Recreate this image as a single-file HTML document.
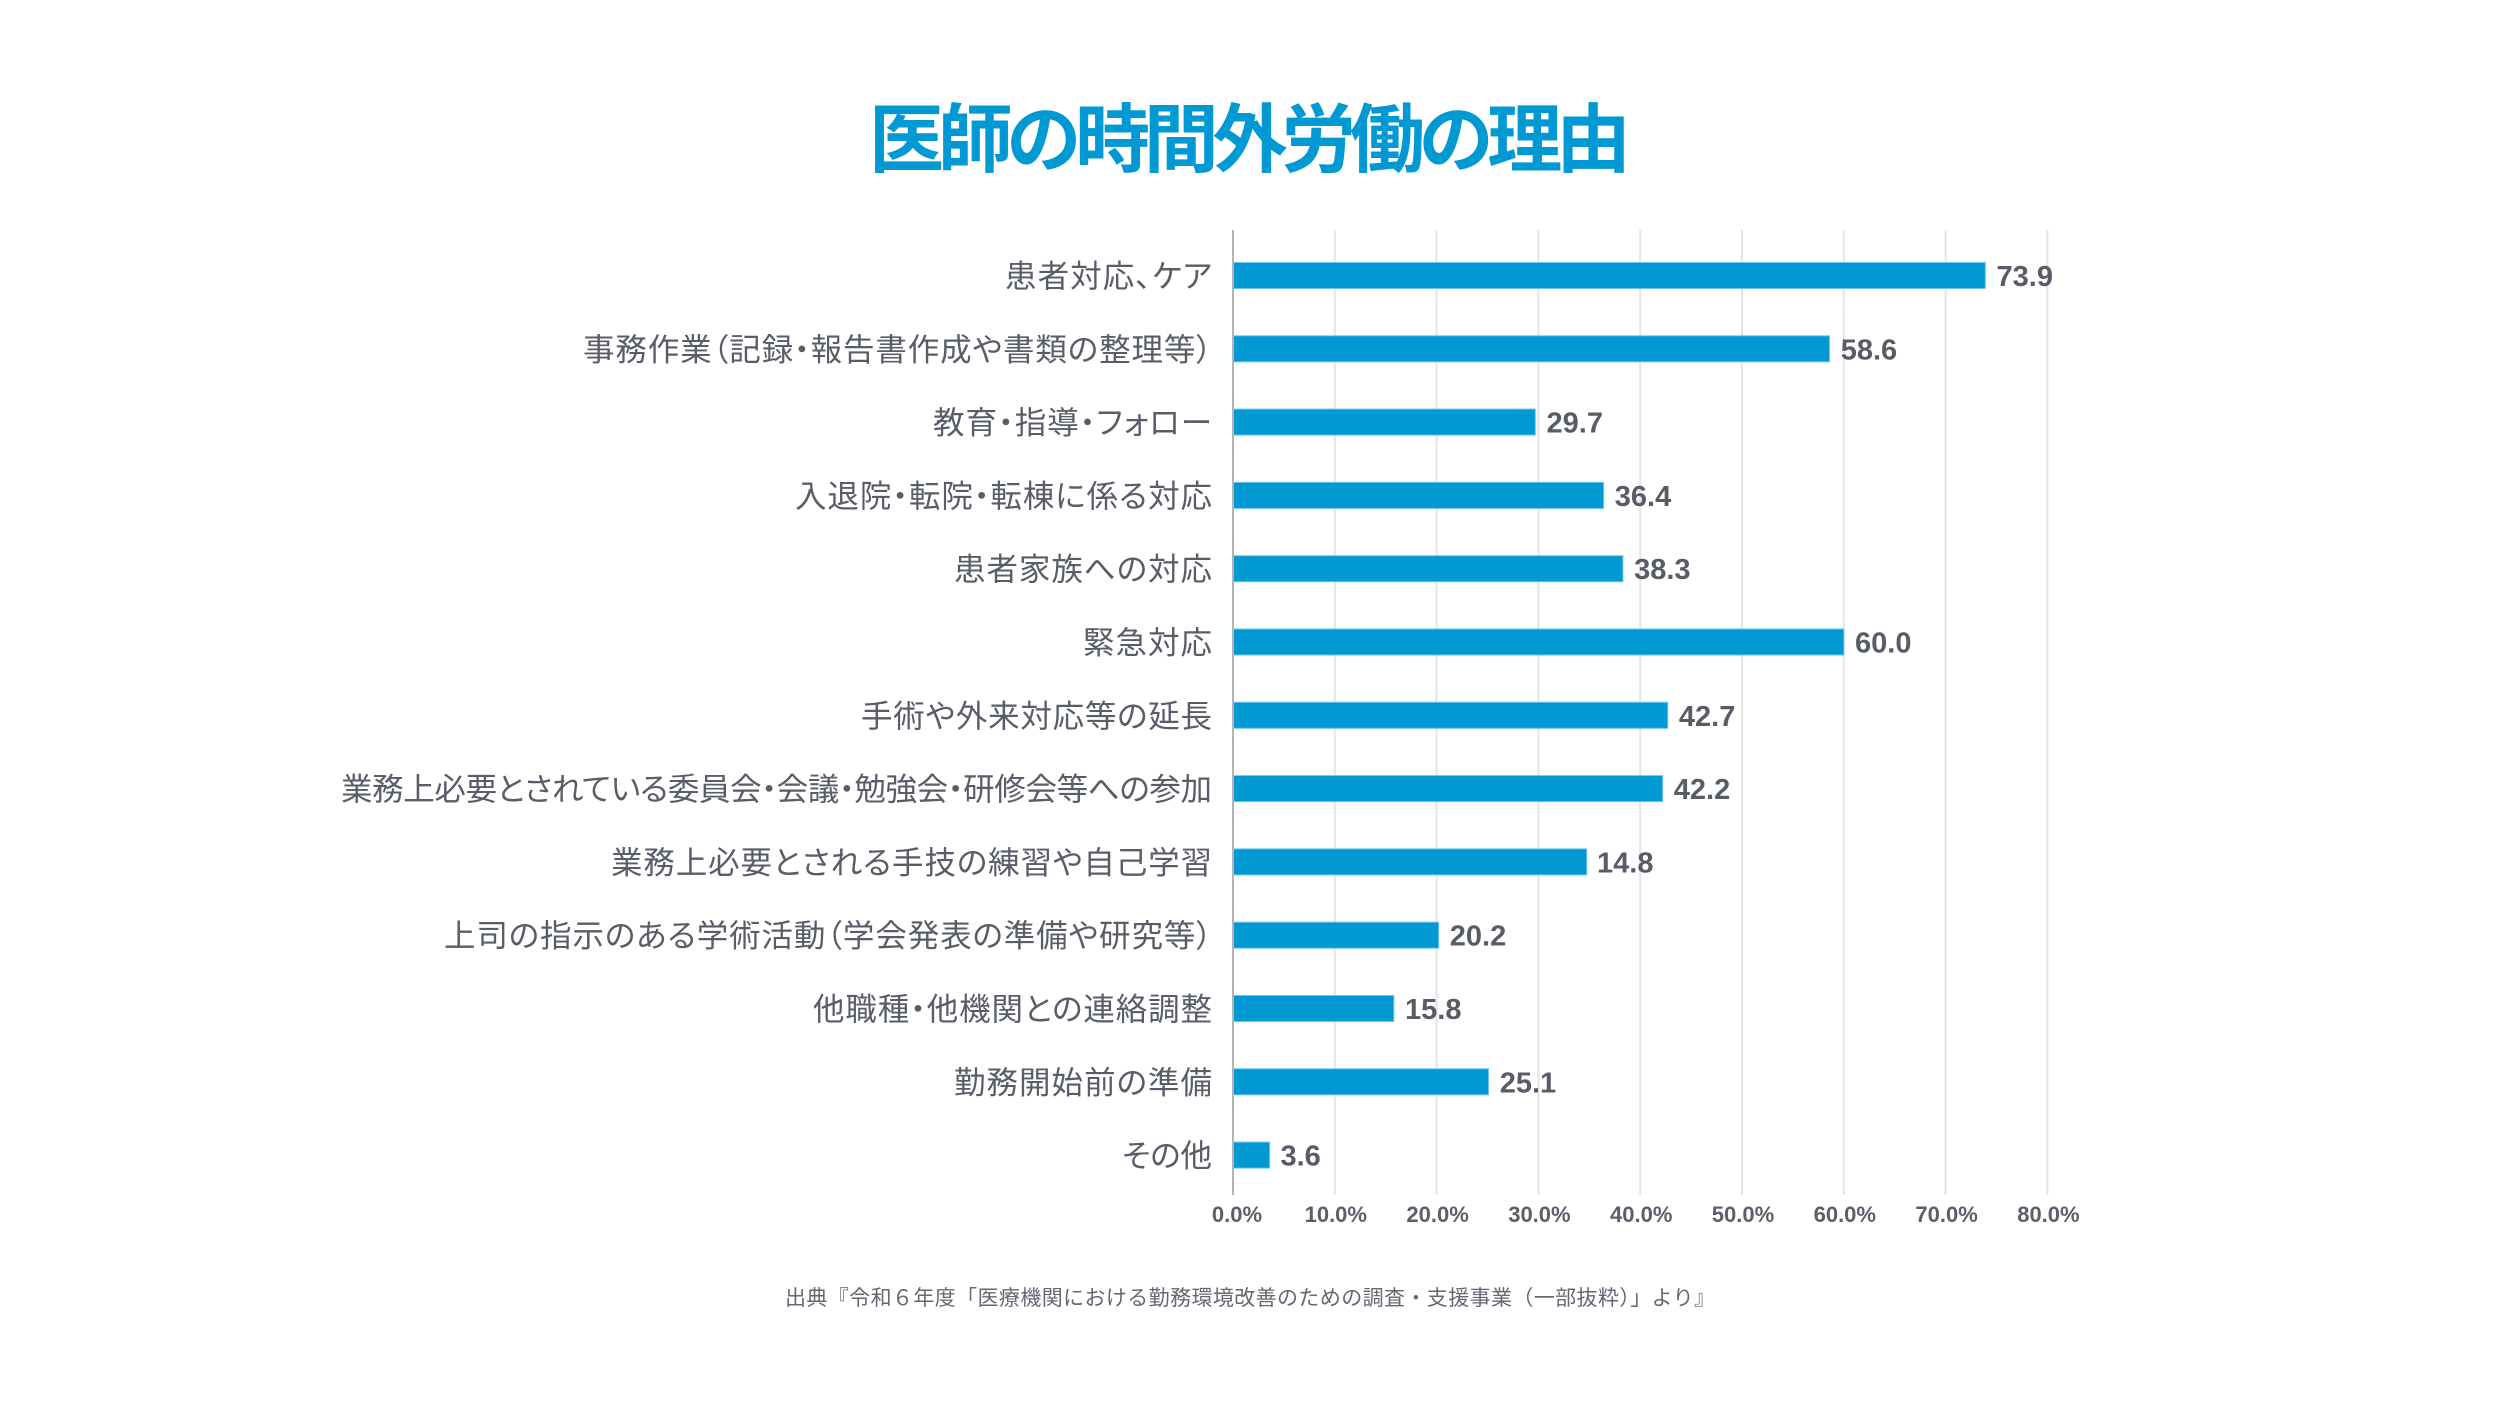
<!DOCTYPE html>
<html lang="ja">
<head>
<meta charset="utf-8">
<style>
  html, body { margin:0; padding:0; background:#ffffff; }
  body { width:2500px; height:1410px; overflow:hidden; }
  svg { display:block; }
  .title { font-family:"Liberation Sans","Noto Sans CJK JP",sans-serif; font-weight:700; font-size:75px; fill:#0099d3; }
  .cat { font-family:"Liberation Sans","Noto Sans CJK JP",sans-serif; font-size:31.5px; fill:#585d68; font-feature-settings:"palt" 1; }
  .val { font-family:"Liberation Sans",sans-serif; font-weight:700; font-size:29px; fill:#575c66; }
  .tick { font-family:"Liberation Sans",sans-serif; font-weight:700; font-size:22px; fill:#5a5f69; }
  .src { font-family:"Liberation Sans","Noto Sans CJK JP",sans-serif; font-size:21px; fill:#636873; }
</style>
</head>
<body>
<svg width="2500" height="1410" viewBox="0 0 2500 1410" xmlns="http://www.w3.org/2000/svg">
  <rect x="0" y="0" width="2500" height="1410" fill="#ffffff"/>

  <!-- Title -->
  <text class="title" x="1250" y="166" text-anchor="middle" textLength="762" lengthAdjust="spacing">医師の時間外労働の理由</text>

  <!-- Gridlines -->
  <g stroke="#e4e4e4" stroke-width="2">
    <line x1="1334.8" y1="230" x2="1334.8" y2="1195"/>
    <line x1="1436.6" y1="230" x2="1436.6" y2="1195"/>
    <line x1="1538.4" y1="230" x2="1538.4" y2="1195"/>
    <line x1="1640.2" y1="230" x2="1640.2" y2="1195"/>
    <line x1="1742.0" y1="230" x2="1742.0" y2="1195"/>
    <line x1="1843.8" y1="230" x2="1843.8" y2="1195"/>
    <line x1="1945.6" y1="230" x2="1945.6" y2="1195"/>
    <line x1="2047.4" y1="230" x2="2047.4" y2="1195"/>
  </g>

  <!-- Bars -->
  <g fill="#0099d3" stroke="#6cc4ea" stroke-width="1">
    <rect x="1233" y="262.5" width="752.3" height="26"/>
    <rect x="1233" y="335.8" width="596.5" height="26"/>
    <rect x="1233" y="409.1" width="302.3" height="26"/>
    <rect x="1233" y="482.4" width="370.6" height="26"/>
    <rect x="1233" y="555.7" width="389.9" height="26"/>
    <rect x="1233" y="629.0" width="610.8" height="26"/>
    <rect x="1233" y="702.3" width="434.7" height="26"/>
    <rect x="1233" y="775.6" width="429.6" height="26"/>
    <rect x="1233" y="848.9" width="353.7" height="26"/>
    <rect x="1233" y="922.2" width="205.6" height="26"/>
    <rect x="1233" y="995.5" width="160.8" height="26"/>
    <rect x="1233" y="1068.8" width="255.5" height="26"/>
    <rect x="1233" y="1142.1" width="36.6" height="26"/>
  </g>

  <!-- Axis line -->
  <line x1="1233" y1="230" x2="1233" y2="1195" stroke="#b4b4b4" stroke-width="2"/>

  <!-- Category labels -->
  <g class="cat" text-anchor="end">
    <text x="1212" y="287" textLength="207" lengthAdjust="spacing">患者対応、ケア</text>
    <text x="1212" y="360.3" textLength="629" lengthAdjust="spacing">事務作業（記録・報告書作成や書類の整理等）</text>
    <text x="1212" y="433.6" textLength="279" lengthAdjust="spacing">教育・指導・フォロー</text>
    <text x="1212" y="506.9" textLength="417" lengthAdjust="spacing">入退院・転院・転棟に係る対応</text>
    <text x="1212" y="580.2" textLength="258" lengthAdjust="spacing">患者家族への対応</text>
    <text x="1212" y="653.5" textLength="129" lengthAdjust="spacing">緊急対応</text>
    <text x="1212" y="726.8" textLength="351" lengthAdjust="spacing">手術や外来対応等の延長</text>
    <text x="1212" y="800.1" textLength="871" lengthAdjust="spacing">業務上必要とされている委員会・会議・勉強会・研修会等への参加</text>
    <text x="1212" y="873.4" textLength="601" lengthAdjust="spacing">業務上必要とされる手技の練習や自己学習</text>
    <text x="1212" y="946.7" textLength="768" lengthAdjust="spacing">上司の指示のある学術活動（学会発表の準備や研究等）</text>
    <text x="1212" y="1020.0" textLength="399" lengthAdjust="spacing">他職種・他機関との連絡調整</text>
    <text x="1212" y="1093.3" textLength="258" lengthAdjust="spacing">勤務開始前の準備</text>
    <text x="1212" y="1166.6" textLength="90" lengthAdjust="spacing">その他</text>
  </g>

  <!-- Value labels -->
  <g class="val">
    <text x="1996.5" y="286">73.9</text>
    <text x="1840.7" y="359.3">58.6</text>
    <text x="1546.5" y="432.6">29.7</text>
    <text x="1614.8" y="505.9">36.4</text>
    <text x="1634.1" y="579.2">38.3</text>
    <text x="1855.0" y="652.5">60.0</text>
    <text x="1678.9" y="725.8">42.7</text>
    <text x="1673.8" y="799.1">42.2</text>
    <text x="1597" y="872.4">14.8</text>
    <text x="1449.8" y="945.7">20.2</text>
    <text x="1405.0" y="1019.0">15.8</text>
    <text x="1499.7" y="1092.3">25.1</text>
    <text x="1280.5" y="1165.6">3.6</text>
  </g>

  <!-- Tick labels -->
  <g class="tick" text-anchor="middle">
    <text x="1237" y="1222">0.0%</text>
    <text x="1335.8" y="1222">10.0%</text>
    <text x="1437.6" y="1222">20.0%</text>
    <text x="1539.4" y="1222">30.0%</text>
    <text x="1641.2" y="1222">40.0%</text>
    <text x="1743.0" y="1222">50.0%</text>
    <text x="1844.8" y="1222">60.0%</text>
    <text x="1946.6" y="1222">70.0%</text>
    <text x="2048.4" y="1222">80.0%</text>
  </g>

  <!-- Source -->
  <text class="src" x="1250" y="1305" text-anchor="middle" textLength="930" lengthAdjust="spacing">出典『令和６年度「医療機関における勤務環境改善のための調査・支援事業（一部抜粋）」より』</text>
</svg>
</body>
</html>
